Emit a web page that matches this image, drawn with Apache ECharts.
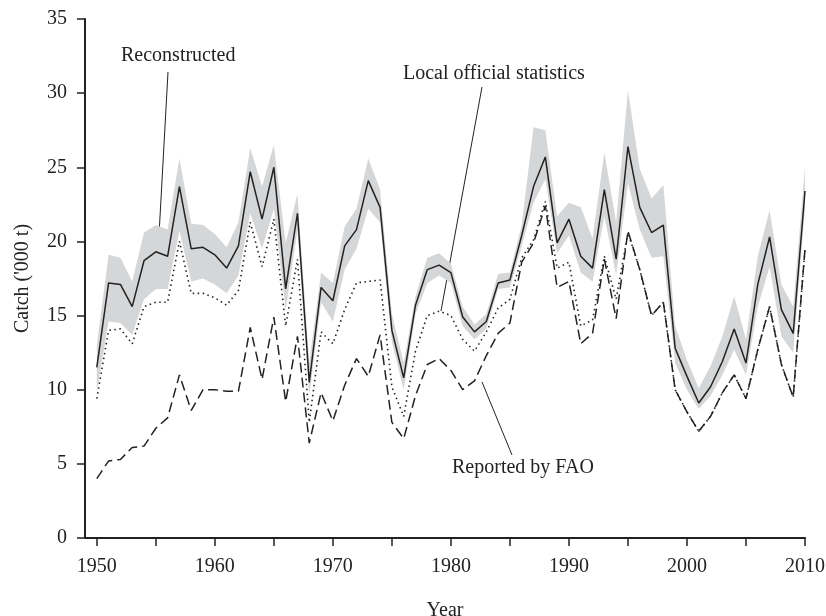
<!DOCTYPE html>
<html>
<head>
<meta charset="utf-8">
<script src="https://cdn.jsdelivr.net/npm/echarts@6/dist/echarts.min.js"></script>
<style>
  html, body { margin: 0; padding: 0; background: #fff; }
  #chart { width: 826px; height: 616px; }
</style>
</head>
<body>
<div id="chart"></div>
<script>
// years 1950..2010
var years = [];
for (var y = 1950; y <= 2010; y++) years.push(y);

// reconstructed catch ('000 t)
var reconstructed = [
  11.5, 17.2, 17.1, 15.6, 18.7, 19.3, 19.0, 23.7, 19.5, 19.6,
  19.1, 18.2, 19.7, 24.7, 21.5, 25.0, 16.8, 21.9, 10.5, 16.9,
  16.0, 19.7, 20.8, 24.1, 22.3, 14.0, 10.8, 15.7, 18.1, 18.4,
  17.9, 14.9, 13.9, 14.6, 17.2, 17.4, 20.4, 23.7, 25.7, 19.9,
  21.5, 19.0, 18.2, 23.5, 18.8, 26.4, 22.3, 20.6, 21.1, 12.8,
  10.9, 9.1, 10.2, 11.9, 14.1, 11.8, 17.1, 20.3, 15.4, 13.8, 23.4
];
// uncertainty band round the reconstruction
var bandUpper = [
  13.0, 19.1, 18.9, 17.3, 20.6, 21.1, 20.8, 25.6, 21.2, 21.1,
  20.5, 19.6, 21.3, 26.3, 23.7, 26.5, 19.9, 23.2, 11.8, 17.9,
  17.2, 21.0, 22.2, 25.6, 23.5, 15.1, 11.8, 16.3, 18.9, 19.2,
  18.5, 15.6, 14.4, 15.1, 17.8, 17.9, 21.1, 27.7, 27.5, 21.7,
  22.6, 22.3, 20.2, 26.0, 21.3, 30.2, 24.9, 22.9, 23.8, 14.3,
  12.0, 10.1, 11.6, 13.6, 16.3, 13.4, 19.0, 22.1, 17.1, 15.6, 25.0
];
var bandLower = [
  9.8, 14.6, 14.5, 13.7, 16.1, 16.8, 16.8, 20.7, 17.3, 17.5,
  17.1, 16.5, 17.7, 21.9, 19.5, 22.2, 15.4, 20.8, 9.6, 15.9,
  14.6, 18.1, 19.5, 22.2, 21.3, 13.2, 10.0, 15.1, 17.2, 17.7,
  17.2, 14.3, 13.4, 14.1, 16.8, 16.9, 19.7, 22.6, 24.2, 19.2,
  20.4, 17.9, 17.3, 21.7, 17.7, 23.9, 20.8, 18.9, 19.0, 11.8,
  10.0, 8.7, 9.6, 11.0, 12.7, 11.0, 15.6, 18.3, 13.6, 12.5, 22.2
];
// local official statistics
var localOfficial = [
  9.4, 14.0, 14.1, 13.1, 15.6, 15.9, 15.9, 20.0, 16.5, 16.5,
  16.2, 15.7, 16.7, 21.3, 18.3, 21.5, 14.3, 18.8, 7.8, 13.9,
  13.1, 15.4, 17.2, 17.3, 17.4, 10.2, 8.2, 12.6, 15.0, 15.3,
  15.0, 13.4, 12.6, 13.9, 15.5, 16.1, 18.9, 20.1, 22.7, 18.2,
  18.6, 14.3, 14.7, 19.0, 16.1, 20.6, 18.1, 15.0, 15.9, 10.0,
  8.5, 7.2, 8.2, 9.8, 11.0, 9.4, 12.7, 15.6, 11.7, 9.5, 19.5
];
// reported by FAO
var fao = [
  4.0, 5.2, 5.3, 6.1, 6.2, 7.4, 8.1, 11.0, 8.6, 10.0,
  10.0, 9.9, 9.9, 14.2, 10.7, 14.9, 9.2, 13.6, 6.4, 9.8,
  7.9, 10.3, 12.1, 10.9, 13.7, 7.8, 6.7, 9.6, 11.7, 12.1,
  11.3, 10.0, 10.6, 12.3, 13.8, 14.5, 18.6, 19.9, 22.4, 16.9,
  17.3, 13.1, 13.8, 18.8, 14.8, 20.7, 18.1, 15.0, 15.9, 10.0,
  8.5, 7.2, 8.2, 9.8, 11.0, 9.4, 12.7, 15.6, 11.7, 9.5, 19.5
];
var xTicks = [1950, 1955, 1960, 1965, 1970, 1975, 1980, 1985, 1990, 1995, 2000, 2005, 2010];
var xLabels = [1950, 1960, 1970, 1980, 1990, 2000, 2010];

function pairs(vals) {
  return years.map(function (yr, i) { return [yr, vals[i]]; });
}

var font = 'Liberation Serif';
var ink = '#222';

var chart = echarts.init(document.getElementById('chart'));
var option = {
  animation: false,
  backgroundColor: '#fff',
  grid: { left: 85, right: 21, top: 19, bottom: 78, containLabel: false, outerBoundsMode: 'none' },
  xAxis: {
    type: 'value',
    min: 1949,
    max: 2010,
    name: 'Year',
    nameLocation: 'middle',
    nameGap: 63,
    nameTextStyle: { fontFamily: font, fontSize: 20, color: ink },
    splitLine: { show: false },
    axisLine: { lineStyle: { color: ink, width: 2 } },
    axisTick: { show: true, length: 8, customValues: xTicks, lineStyle: { color: ink, width: 1.5 } },
    axisLabel: {
      customValues: xLabels, margin: 19, fontFamily: font, fontSize: 20, color: ink,
      formatter: function (v) { return String(v); }
    }
  },
  yAxis: {
    type: 'value',
    min: 0,
    max: 35,
    interval: 5,
    name: "Catch ('000 t)",
    nameLocation: 'middle',
    nameGap: 52,
    nameRotate: 90,
    nameTextStyle: { fontFamily: font, fontSize: 20, color: ink },
    splitLine: { show: false },
    axisLine: { show: true, lineStyle: { color: ink, width: 2 } },
    axisTick: { show: true, length: 8, lineStyle: { color: ink, width: 1.5 } },
    axisLabel: { margin: 18, fontFamily: font, fontSize: 20, color: ink }
  },
  series: [
    {
      // grey band: upper edge forward, lower edge back
      name: 'band', type: 'custom', silent: true,
      data: pairs(bandUpper),
      renderItem: function (params, api) {
        if (params.dataIndex !== 0) return;
        var pts = [];
        for (var i = 0; i < years.length; i++) pts.push(api.coord([years[i], bandUpper[i]]));
        for (var j = years.length - 1; j >= 0; j--) pts.push(api.coord([years[j], bandLower[j]]));
        return { type: 'polygon', shape: { points: pts }, style: { fill: '#d5d6d8' } };
      }
    },
    {
      name: 'Reported by FAO', type: 'line', symbol: 'none',
      data: pairs(fao),
      lineStyle: { color: ink, width: 1.5, type: [10, 5] }
    },
    {
      name: 'Local official statistics', type: 'line', symbol: 'none',
      data: pairs(localOfficial),
      lineStyle: { color: ink, width: 1.6, type: [1.5, 3.5] }
    },
    {
      name: 'Reconstructed', type: 'line', symbol: 'none',
      data: pairs(reconstructed),
      lineStyle: { color: ink, width: 1.5 }
    }
  ],
  graphic: [
    { type: 'text', left: 121, top: 46, style: { text: 'Reconstructed', font: '20px "Liberation Serif"', fill: ink } },
    { type: 'line', shape: { x1: 168, y1: 72, x2: 158, y2: 253 }, style: { stroke: ink, lineWidth: 1 } },
    { type: 'text', left: 403, top: 64, style: { text: 'Local official statistics', font: '20px "Liberation Serif"', fill: ink } },
    { type: 'line', shape: { x1: 482, y1: 87, x2: 441, y2: 311 }, style: { stroke: ink, lineWidth: 1 } },
    { type: 'text', left: 452, top: 458, style: { text: 'Reported by FAO', font: '20px "Liberation Serif"', fill: ink } },
    { type: 'line', shape: { x1: 482, y1: 382, x2: 512, y2: 455 }, style: { stroke: ink, lineWidth: 1 } }
  ]
};
chart.setOption(option);
</script>
</body>
</html>
